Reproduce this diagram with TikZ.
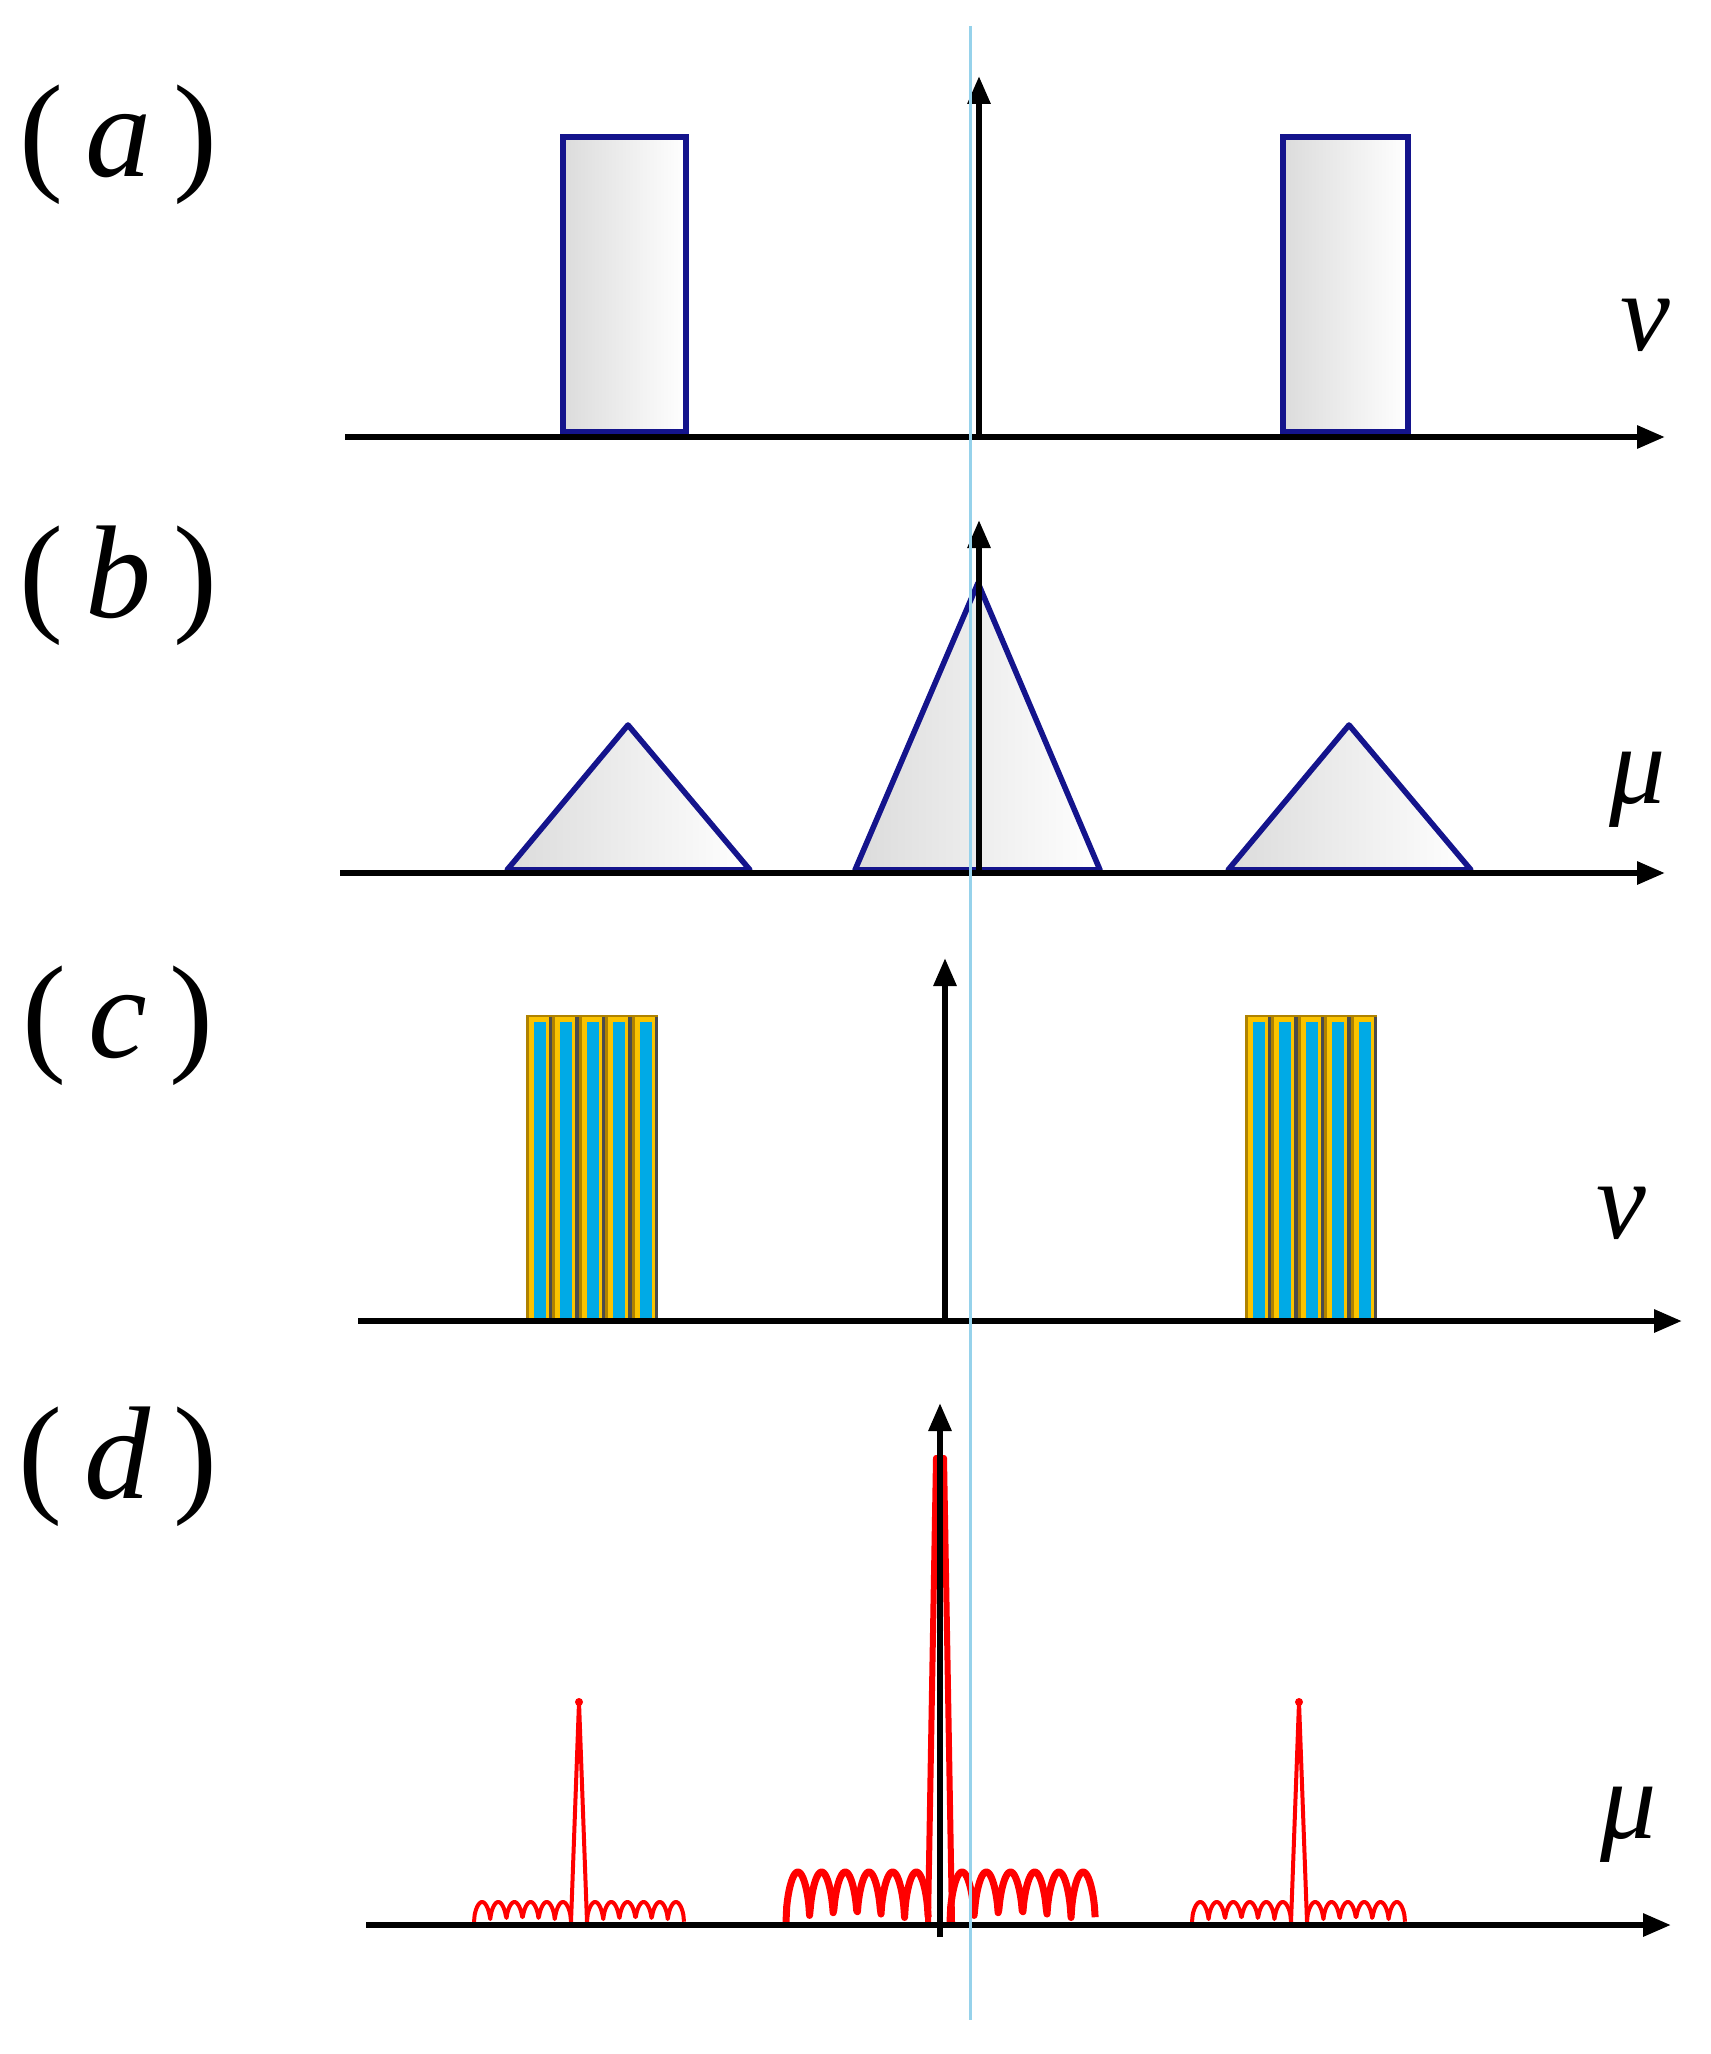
\documentclass[tikz,border=0pt]{standalone}
\usepackage{fontspec}
\setmainfont{Liberation Serif}
\usetikzlibrary{arrows.meta}
\definecolor{rb}{RGB}{20,20,140}
\definecolor{gold}{RGB}{250,195,0}
\definecolor{dgold}{RGB}{175,130,0}
\definecolor{cy}{RGB}{0,170,230}
\definecolor{lc}{RGB}{150,210,235}
\begin{document}
\begin{tikzpicture}[x=0.5pt,y=-0.5pt,
 ax/.style={line width=3pt,-{Triangle[length=14pt,width=11pt]}},
 lab/.style={font=\fontsize{66}{70}\selectfont},
 sym/.style={font=\fontsize{56}{60}\selectfont\itshape},
 shp/.style={draw=rb,line width=2.8pt,left color=gray!28,right color=white},
 rip/.style={red,line width=2.5pt,line join=round}]
\useasboundingbox (0,0) rectangle (1711,2054);
% (a)
\coordinate (a0) at (345,437); \coordinate (a1) at (1665,437);
\coordinate (av0) at (979,437); \coordinate (av1) at (979,76);
\draw[shp] (563,137) rectangle (686,432);
\draw[shp] (1283,137) rectangle (1408,432);
\draw[ax] (a0) -- (a1);
\draw[ax] (av0) -- (av1);
\node[lab] (la) at (118,145) {(\,\textit{a}\,)};
\node[sym] (na) at (1645,325) {ν};
% (b)
\coordinate (b0) at (340,873); \coordinate (b1) at (1665,873);
\coordinate (bv0) at (979,873); \coordinate (bv1) at (979,520);
\draw[shp,line join=round] (507,870) -- (628,725) -- (750,870) -- cycle;
\draw[shp,line join=round] (855,870) -- (978,583) -- (1100,870) -- cycle;
\draw[shp,line join=round] (1228,870) -- (1349,725) -- (1471,870) -- cycle;
\draw[ax] (b0) -- (b1);
\draw[ax] (bv0) -- (bv1);
\node[lab] (lb) at (118,586) {(\,\textit{b}\,)};
\node[sym] (nb) at (1638,790) {μ};
% (c)
\coordinate (c0) at (358,1321); \coordinate (c1) at (1682,1321);
\coordinate (cv0) at (945,1321); \coordinate (cv1) at (945,958);
\foreach \s in {526,1245}{
 \foreach \i in {0,...,4}{
  \pgfmathsetmacro\xa{\s+\i*26.4}
  \fill[dgold] (\xa,1015) rectangle ++(26.4,304);
  \fill[gold] (\xa+3,1017) rectangle ++(20,302);
  \fill[cy] (\xa+8,1022) rectangle ++(12,297);
  \fill[black!70] (\xa+23,1017) rectangle ++(3.4,302);
 }}
\draw[ax] (c0) -- (c1);
\draw[ax] (cv0) -- (cv1);
\node[lab] (lc) at (118,1026) {(\,\textit{c}\,)};
\node[sym] (nc) at (1621,1213) {ν};
% (d)
\coordinate (d0) at (366,1925); \coordinate (d1) at (1671,1925);
\coordinate (dv0) at (940,1937); \coordinate (dv1) at (940,1403);
\draw[rip,line width=3.5pt] plot[variable=\t,domain=0:6,samples=200] ({786+23.7*\t},{1922-50*sqrt(abs(sin(180*\t)))});
\draw[rip,line width=3.5pt] plot[variable=\t,domain=0:6,samples=200] ({950+24.2*\t},{1922-50*sqrt(abs(sin(180*\t)))});
\draw[rip,line width=3pt] (928,1922) -- (936,1458) -- (944,1458) -- (952,1922);
\fill[red] (940,1460) circle (5);
\foreach \p/\a/\b in {579/474/684,1299/1192/1405}{
 \pgfmathsetmacro\wl{(\p-8-\a)/6}
 \pgfmathsetmacro\wr{(\b-\p-8)/6}
 \draw[rip,line width=2pt] plot[variable=\t,domain=0:6,samples=150] ({\a+\wl*\t},{1922-20*sqrt(abs(sin(180*\t)))});
 \draw[rip,line width=2pt] plot[variable=\t,domain=0:6,samples=150] ({\p+8+\wr*\t},{1922-20*sqrt(abs(sin(180*\t)))});
 \draw[rip,line width=2pt] (\p-8,1922) -- (\p,1702) -- (\p+8,1922);
 \fill[red] (\p,1702) circle (4);
}
\draw[ax] (d0) -- (d1);
\draw[ax] (dv0) -- (dv1);
\node[lab] (ld) at (118,1467) {(\,\textit{d}\,)};
\node[sym] (nd) at (1629,1825) {μ};
% cyan line
\coordinate (l0) at (970,26); \coordinate (l1) at (970,2020);
\draw[lc,line width=1.5pt] (l0) -- (l1);
\end{tikzpicture}
\end{document}
